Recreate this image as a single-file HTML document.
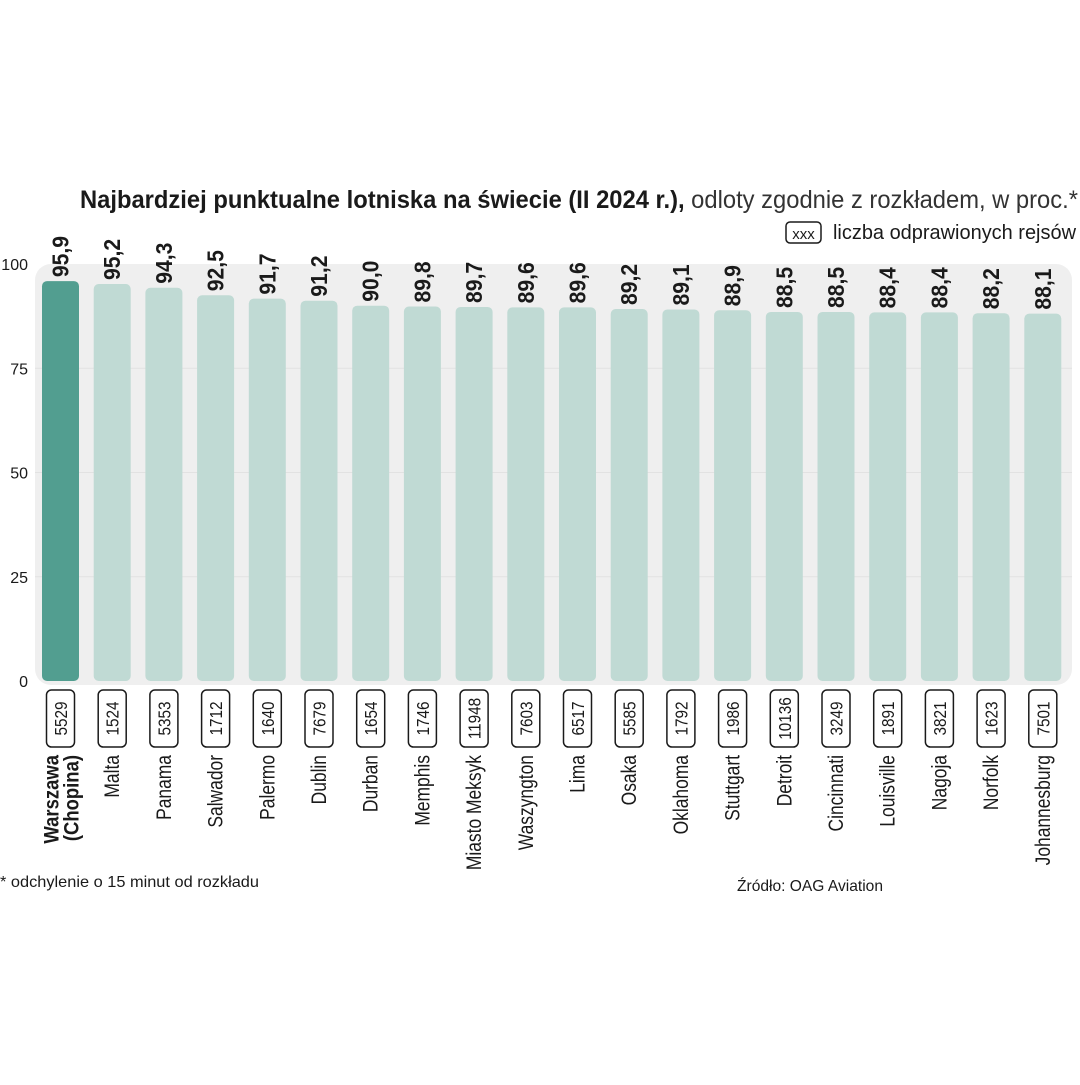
<!DOCTYPE html>
<html><head><meta charset="utf-8"><style>
html,body{margin:0;padding:0;background:#fff;}
svg text{font-family:"Liberation Sans Narrow","Liberation Sans",sans-serif;fill:#1a1a1a;}
</style></head><body>
<svg id="chart" width="1080" height="1080" viewBox="0 0 1080 1080" xmlns="http://www.w3.org/2000/svg">
<rect width="1080" height="1080" fill="#fff"/>
<text x="80" y="208" font-size="25" textLength="998" lengthAdjust="spacingAndGlyphs"><tspan font-weight="bold">Najbardziej punktualne lotniska na świecie (II 2024 r.),</tspan><tspan fill="#333"> odloty zgodnie z rozkładem, w proc.*</tspan></text>
<g>
<rect x="786" y="222" width="35" height="21" rx="4" fill="#fff" stroke="#1a1a1a" stroke-width="1.5"/>
<text x="803.5" y="239" font-size="15" text-anchor="middle">xxx</text>
<text x="833" y="239" font-size="20" fill="#333" textLength="243" lengthAdjust="spacingAndGlyphs">liczba odprawionych rejsów</text>
</g>
<rect x="35" y="264" width="1037" height="421" rx="16" fill="#efefef"/>
<g id="grid"></g>
<g id="bars"></g>
<text x="0" y="887" font-size="16" fill="#333" textLength="259" lengthAdjust="spacingAndGlyphs">* odchylenie o 15 minut od rozkładu</text>
<text x="737" y="891" font-size="16" fill="#333" textLength="146" lengthAdjust="spacingAndGlyphs">Źródło: OAG Aviation</text>
</svg>
<script>
const categories = ["Warszawa (Chopina)","Malta","Panama","Salwador","Palermo","Dublin","Durban","Memphis","Miasto Meksyk","Waszyngton","Lima","Osaka","Oklahoma","Stuttgart","Detroit","Cincinnati","Louisville","Nagoja","Norfolk","Johannesburg"];
const values = [95.9,95.2,94.3,92.5,91.7,91.2,90.0,89.8,89.7,89.6,89.6,89.2,89.1,88.9,88.5,88.5,88.4,88.4,88.2,88.1];
const flights = [5529,1524,5353,1712,1640,7679,1654,1746,11948,7603,6517,5585,1792,1986,10136,3249,1891,3821,1623,7501];
const yTicks = [0,25,50,75,100];
const NS="http://www.w3.org/2000/svg";
const y0=681, y1=264;
function yScale(v){return y0-(y0-y1)*v/100;}
function xCenter(i){return 60.5+i*51.7;}
function mk(tag,attrs,parent){const e=document.createElementNS(NS,tag);for(const k in attrs)e.setAttribute(k,attrs[k]);parent.appendChild(e);return e;}
const grid=document.getElementById('grid'), bars=document.getElementById('bars');
yTicks.forEach(t=>{
  if(t>0&&t<100){const l=mk('line',{x1:35,x2:1072,y1:yScale(t),y2:yScale(t),stroke:'#e2e2e2','stroke-width':1},grid);
  
  }
  const tx=mk('text',{x:28,y:yScale(t)+6,'font-size':16,'text-anchor':'end',fill:'#333'},grid);
  tx.textContent=t;
  
  
});
values.forEach((v,i)=>{
  const cx=xCenter(i), top=yScale(v), w=37;
  const r=mk('rect',{x:cx-w/2,y:top,width:w,height:y0-top,rx:5,fill:i===0?'#529e90':'#c0dad4'},bars);
  
  
  const vl=mk('text',{x:0,y:0,'font-size':23,'font-weight':'bold','transform':`translate(${cx+8},${top-4}) rotate(-90) scale(0.92,1)`},bars);
  vl.textContent=v.toFixed(1).replace('.',',');
  
  
  const bx=mk('rect',{x:cx-14,y:690,width:28,height:57,rx:5,fill:'#fff',stroke:'#1a1a1a','stroke-width':1.5},bars);
  
  
  const fl=mk('text',{x:0,y:0,'font-size':18,'text-anchor':'middle','transform':`translate(${cx+6.5},718.5) rotate(-90) scale(0.85,1)`},bars);
  fl.textContent=flights[i];
  
  
  if(i===0){
    const parts=categories[i].split(' ');
    parts.forEach((p,k)=>{
      const n=mk('text',{x:0,y:0,'font-size':21,'font-weight':'bold','text-anchor':'end','transform':`translate(${cx-2+k*20},755) rotate(-90) scale(0.88,1)`},bars);
      n.textContent=p;
      
      
    });
  } else {
    const n=mk('text',{x:0,y:0,'font-size':21,'text-anchor':'end',fill:'#222','transform':`translate(${cx+7},755) rotate(-90) scale(0.83,1)`},bars);
    n.textContent=categories[i];
    
    
  }
});
</script>
</body></html>
